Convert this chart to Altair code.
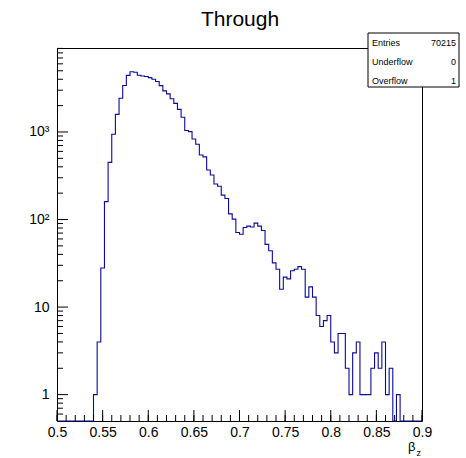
import altair as alt
import pandas as pd

# ---- data (100 bins, 0.5 .. 0.9) ----
bin_low = [round(0.5 + 0.004 * i, 3) for i in range(100)]
counts = [
    0, 0, 0, 0, 0, 0, 0, 0, 0, 0,
    1, 4, 28, 160, 450, 940, 1590, 2430, 3400, 4430,
    4880, 4800, 4450, 4360, 4300, 4170, 4000, 3770, 3380, 2950,
    2720, 2400, 2120, 1810, 1470, 1040, 1010, 830, 724, 545,
    520, 368, 322, 255, 240, 190, 174, 116, 101, 71,
    68, 81, 84, 82, 91, 84, 75, 52, 44, 32,
    27, 16, 22, 21, 26, 27, 29, 27, 13, 17,
    13, 8, 6, 7, 8, 4, 3, 5, 5, 2,
    1, 3, 4, 1, 1, 1, 2, 3, 2, 4,
    1, 2, 0, 1, 0, 0, 0, 0, 0, 0,
]
x_major = [0.5, 0.55, 0.6, 0.65, 0.7, 0.75, 0.8, 0.85, 0.9]
x_minor = [round(0.5 + 0.01 * i, 2) for i in range(41)]
y_major = [1, 10, 100, 1000]
y_minor = [0.6, 0.7, 0.8, 0.9, 2, 3, 4, 5, 6, 7, 8, 9,
           20, 30, 40, 50, 60, 70, 80, 90,
           200, 300, 400, 500, 600, 700, 800, 900,
           2000, 3000, 4000, 5000, 6000, 7000, 8000, 9000]
stats_names = ["Entries", "Underflow", "Overflow"]
stats_values = ["70215", "0", "1"]

W, H = 365, 373
FONT = "Liberation Sans"
YMIN, YMAX = 0.5, 9100

xs = alt.Scale(domain=[0.5, 0.9], nice=False, zero=False)
ys = alt.Scale(type="log", domain=[YMIN, YMAX], nice=False)

hist = pd.DataFrame({
    "x": bin_low + [0.9],
    "n": counts + [counts[-1]],
})

line = alt.Chart(hist).transform_calculate(
    yv="max(datum.n, %s)" % YMIN
).mark_line(interpolate="step-after", color="#0a0a9c", strokeWidth=1.1).encode(
    x=alt.X("x:Q", scale=xs,
            axis=alt.Axis(values=x_major, format="~g", ticks=False, domain=False,
                          grid=False, labelFont=FONT, labelFontSize=14,
                          labelColor="black", labelPadding=4, title=None,
                          labelFlush=False)),
    y=alt.Y("yv:Q", scale=ys,
            axis=alt.Axis(values=y_major, ticks=False, domain=False, grid=False,
                          labelFont=FONT, labelFontSize=14, labelColor="black",
                          labelPadding=8, title=None,
                          labelExpr="datum.value == 100 ? '10²' : datum.value == 1000 ? '10³' : datum.label")),
)

xt = pd.DataFrame({
    "v": x_minor + x_major,
    "len": [6] * len(x_minor) + [11] * len(x_major),
})
xticks = alt.Chart(xt).transform_calculate(
    y0="%d - datum.len" % H
).mark_rule(color="black", strokeWidth=1).encode(
    x=alt.X("v:Q", scale=xs),
    y=alt.value(H),
    y2=alt.Y2("y0:Q"),
)
# y2 as value expression via calculate requires pixel; use separate charts
xticks_minor = alt.Chart(pd.DataFrame({"v": x_minor})).mark_rule(
    color="black", strokeWidth=1).encode(
    x=alt.X("v:Q", scale=xs), y=alt.value(H), y2=alt.value(H - 6))
xticks_major = alt.Chart(pd.DataFrame({"v": x_major})).mark_rule(
    color="black", strokeWidth=1).encode(
    x=alt.X("v:Q", scale=xs), y=alt.value(H), y2=alt.value(H - 11))

yticks_minor = alt.Chart(pd.DataFrame({"v": y_minor})).mark_rule(
    color="black", strokeWidth=1).encode(
    y=alt.Y("v:Q", scale=ys), x=alt.value(0), x2=alt.value(6))
yticks_major = alt.Chart(pd.DataFrame({"v": y_major})).mark_rule(
    color="black", strokeWidth=1).encode(
    y=alt.Y("v:Q", scale=ys), x=alt.value(0), x2=alt.value(11))

title = alt.Chart(pd.DataFrame({"t": ["Through"]})).mark_text(
    font=FONT, fontSize=21, color="black", align="center", baseline="alphabetic"
).encode(text="t:N", x=alt.value(183), y=alt.value(-22))

box = alt.Chart(pd.DataFrame({"a": [0]})).mark_rect(
    fill="white", stroke="black", strokeWidth=1
).encode(x=alt.value(311), x2=alt.value(402), y=alt.value(-15), y2=alt.value(39))

stats = pd.DataFrame({
    "name": stats_names,
    "val": stats_values,
    "row": [0, 1, 2],
})
stats_name = alt.Chart(stats).transform_calculate(
    py="-5 + datum.row * 18.8"
).mark_text(font=FONT, fontSize=9, color="black", align="left", baseline="middle").encode(
    text="name:N", x=alt.value(315),
    y=alt.Y("py:Q", scale=None))
stats_val = alt.Chart(stats).transform_calculate(
    py="-5 + datum.row * 18.8"
).mark_text(font=FONT, fontSize=9, color="black", align="right", baseline="middle").encode(
    text="val:N", x=alt.value(399),
    y=alt.Y("py:Q", scale=None))

beta = alt.Chart(pd.DataFrame({"t": ["β"]})).mark_text(
    font=FONT, fontSize=13, color="black", align="left", baseline="alphabetic"
).encode(text="t:N", x=alt.value(351), y=alt.value(403))
zsub = alt.Chart(pd.DataFrame({"t": ["z"]})).mark_text(
    font=FONT, fontSize=9, color="black", align="left", baseline="alphabetic"
).encode(text="t:N", x=alt.value(359.5), y=alt.value(408))

chart = alt.layer(
    line, xticks_minor, xticks_major, yticks_minor, yticks_major,
    title, box, stats_name, stats_val, beta, zsub,
).resolve_scale(y="shared").properties(
    width=W, height=H,
    padding={"left": 57, "top": 48, "right": 466 - 57 - W, "bottom": 458 - 48 - H},
    autosize=alt.AutoSizeParams(type="none"),
    background="white",
).configure_view(stroke="black", strokeWidth=1)

chart.save("out.html", embed_options={"renderer": "svg", "actions": False})
